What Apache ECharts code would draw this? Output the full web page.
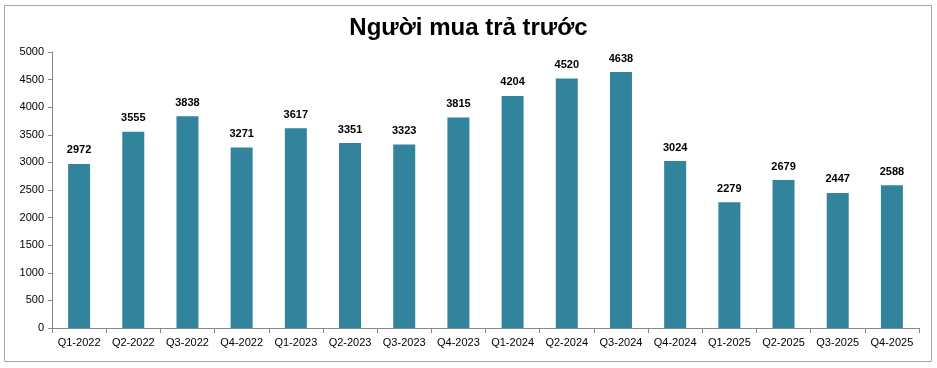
<!DOCTYPE html>
<html><head><meta charset="utf-8">
<script src="https://cdn.jsdelivr.net/npm/echarts@6/dist/echarts.min.js"></script>
<style>html,body{margin:0;padding:0;background:#fff}#c{width:937px;height:368px}</style>
</head><body><div id="c"></div>
<script>
const categories = ["Q1-2022","Q2-2022","Q3-2022","Q4-2022","Q1-2023","Q2-2023","Q3-2023","Q4-2023","Q1-2024","Q2-2024","Q3-2024","Q4-2024","Q1-2025","Q2-2025","Q3-2025","Q4-2025"];
const values = [2972,3555,3838,3271,3617,3351,3323,3815,4204,4520,4638,3024,2279,2679,2447,2588];
const titleText = "Người mua trả trước";

const chart = echarts.init(document.getElementById('c'));
chart.setOption({
  animation: false,
  graphic: [{type:'rect', shape:{x:4.5,y:5.5,width:927,height:356}, style:{fill:'none', stroke:'#a6a6a6', lineWidth:1}, z:-1}],
  title: {text: titleText, left: 'center', top: 11, textStyle:{fontFamily:'Liberation Sans', fontSize:24, fontWeight:'bold', color:'#000'}},
  grid: {left: 52, right: 18, top: 52, bottom: 40},
  xAxis: {type:'category', data: categories,
    axisLine:{lineStyle:{color:'#868686'}},
    axisTick:{show:true, length:5, alignWithLabel:false, lineStyle:{color:'#868686'}},
    axisLabel:{color:'#000', fontFamily:'Liberation Sans', fontSize:11, margin:9, interval:0}},
  yAxis: {type:'value', min:0, max:5000, interval:500,
    splitLine:{show:false},
    axisLine:{show:true, lineStyle:{color:'#868686'}},
    axisTick:{show:true, length:4, lineStyle:{color:'#868686'}},
    axisLabel:{color:'#000', fontFamily:'Liberation Sans', fontSize:11, margin:8, formatter: v => String(v)}},
  series: [{type:'bar', data: values, barWidth: 22,
    itemStyle:{color:'#31849b'},
    label:{show:true, position:'top', distance:8, color:'#000', fontFamily:'Liberation Sans', fontSize:11, fontWeight:'bold'}}]
});
</script></body></html>
